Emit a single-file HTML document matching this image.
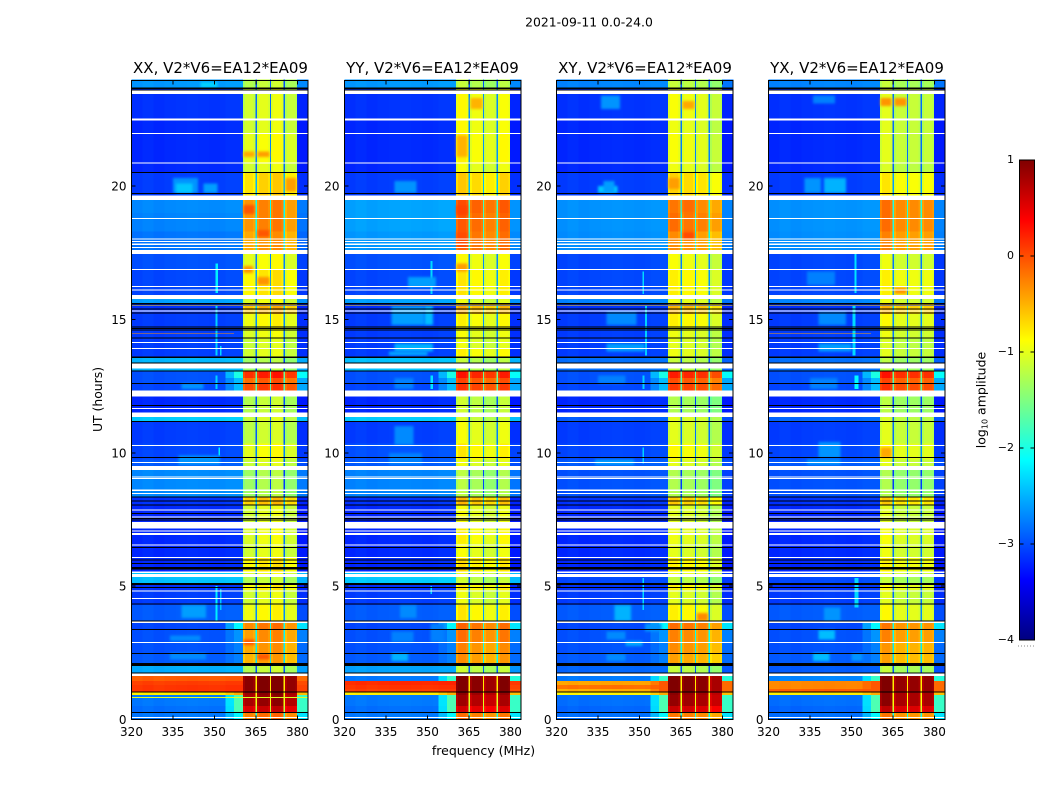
<!DOCTYPE html>
<html>
<head>
<meta charset="utf-8">
<title>Dynamic spectra 2021-09-11</title>
<style>
html,body{margin:0;padding:0;background:#fff;}
svg{display:block;font-family:"DejaVu Sans","Liberation Sans",sans-serif;}
text{fill:#000;}
</style>
</head>
<body>
<svg id="chart" xmlns="http://www.w3.org/2000/svg" width="1050" height="800" viewBox="0 0 1050 800">
  <defs>
    <filter id="softBlob" x="-50%" y="-150%" width="200%" height="400%"><feGaussianBlur stdDeviation="1.4"/></filter>
  </defs>
  <rect x="0" y="0" width="1050" height="800" fill="#fff"/>
  <text x="589" y="26.5" font-size="12.4" text-anchor="middle">2021-09-11 0.0-24.0</text>
  <text x="220.5" y="73" font-size="15" text-anchor="middle">XX, V2*V6=EA12*EA09</text>
  <text x="432.5" y="73" font-size="15" text-anchor="middle">YY, V2*V6=EA12*EA09</text>
  <text x="645" y="73" font-size="15" text-anchor="middle">XY, V2*V6=EA12*EA09</text>
  <text x="857" y="73" font-size="15" text-anchor="middle">YX, V2*V6=EA12*EA09</text>
  <text transform="translate(102,399.5) rotate(-90)" font-size="12.4" text-anchor="middle">UT (hours)</text>
  <text x="483.5" y="755" font-size="12.5" text-anchor="middle">frequency (MHz)</text>
  <text transform="translate(985.5,400) rotate(-90)" font-size="12.5" text-anchor="middle">log<tspan font-size="8" dy="2">10</tspan><tspan dy="-2"> amplitude</tspan></text>
  <g id="panels"></g>
  <g id="colorbar"></g>
</svg>
<script>
// ---- axis labels
const freqTicks = [320, 335, 350, 365, 380];
const hourTicks = [0, 5, 10, 15, 20];
const colorTicks = [1, 0, -1, -2, -3, -4];

// ---- frequency channels (MHz); kind: b=background r=rolloff n=inband g=gap e=upper edge
const channelEdges = [320,324,328,332,336,340,344,348,352,354,357,360.3,361,364,364.8,365.4,366,369.3,370,370.5,371.2,374.2,375,375.5,376.2,379.2,379.9,384];
const channelKind  = ['b','b','b','b','b','b','b','b','b','r','R','n','n','n','g','n','n','n','g','n','n','n','g','n','n','n','e'];
const channelSub   = [-1,-1,-1,-1,-1,-1,-1,-1,-1,-1,-1,0,0,0,-1,1,1,1,-1,2,2,2,-1,3,3,3,-1];
const channelGain  = [0,0.03,0,0.02,0.03,0.04,0.03,0.02,0.03,0.05,0.05,-0.12,0,-0.08,0,-0.12,0,-0.08,0,-0.12,0,-0.08,0,-0.12,0,-0.08,0];

// ---- UT row edges (hours), 52 rows
const rowEdges = [24,23.68,22.5,21.95,20.85,20.53,19.64,19,18.3,17.49,16.88,15.9,15.73,15.62,15.2,14.7,14.3,13.9,13.55,13.07,12.8,12.6,12.32,11.34,11.18,10.35,9.75,9.36,8.34,8.05,7.4,6.6,6.05,5.55,5.35,5.11,4.85,4.3,3.62,3.38,2.9,2.5,2.12,1.76,1.64,1.45,1.3,1.15,1.05,0.92,0.5,0.28,0];

// ---- log10 amplitude per row: background level
const bgXX = [-2.65,-3.15,-3.2,-3.2,-3.2,-3.1,-2.72,-2.75,-2.82,-3,-3.05,-2.6,-2.6,-3.15,-3.1,-3.1,-3.1,-3.1,-2.5,-3,-3,-3.05,-3.2,-2.4,-3.1,-3.05,-2.95,-2.72,-3.15,-3.2,-3.2,-3.2,-3.2,-2.4,-2.45,-3.15,-3.1,-2.95,-3.05,-3,-3,-2.95,-2.55,-2.55,-0.1,0.05,0.1,0.1,-0.8,-2.8,-2.85,-2.8];
const bgYY = [-2.65,-3.15,-3.2,-3.2,-3.2,-3.1,-2.6,-2.6,-2.65,-3,-3.05,-2.6,-2.6,-3.15,-3.1,-3.1,-3.1,-3.1,-2.45,-3,-3,-3.05,-3.2,-2.4,-3.1,-3,-2.95,-2.75,-3.15,-3.2,-3.2,-3.2,-3.2,-2.4,-2.4,-3.15,-3.1,-2.95,-3.05,-3,-3,-2.95,-2.6,-2.6,-2.8,0.15,0.1,0.05,-0.8,-2.8,-2.85,-2.8];
const bgXY = [-2.75,-3.15,-3.2,-3.2,-3.2,-3.1,-2.68,-2.68,-2.7,-3.05,-3.05,-2.75,-2.75,-3.15,-3.1,-3.1,-3.1,-3.1,-2.85,-3,-3,-3.05,-3.2,-2.95,-3.1,-3.05,-2.95,-3,-3.15,-3.2,-3.2,-3.2,-3.2,-3.05,-3.05,-3.15,-3.1,-2.95,-3.05,-3,-3,-2.95,-2.9,-2.9,-2.8,-0.45,-0.2,-0.5,-0.85,-2.85,-2.9,-2.85];
const bgYX = [-2.75,-3.15,-3.2,-3.2,-3.2,-3.1,-2.68,-2.68,-2.7,-3.05,-3.05,-2.75,-2.75,-3.15,-3.1,-3.1,-3.1,-3.1,-2.85,-3,-3,-3.05,-3.2,-2.9,-3.1,-3.05,-2.95,-3,-3.15,-3.2,-3.2,-3.2,-3.2,-3.05,-3.05,-3.15,-3.1,-2.95,-3.05,-3,-3,-2.95,-2.95,-2.95,-2.75,-0.3,-0.3,-0.1,-0.8,-2.85,-2.9,-2.85];

// ---- log10 amplitude per row: in-band level (360-380 MHz)
const bandXX = [-1.2,-1.05,-1.05,-0.95,-1.05,-0.7,-0.3,-0.3,-0.4,-0.95,-0.8,-1,-1,-0.55,-0.9,-1,-1.1,-1.05,-1.3,0.2,-0.1,0.05,-1.2,-1.1,-1.15,-0.95,-1.1,-1.3,-0.6,-1.05,-1,-1.05,-0.8,-1,-1.2,-0.85,-1.05,-0.9,-0.25,-0.35,-0.4,-0.45,-1.2,-1.2,1,1,1,1,0.9,0.85,0.6,-0.2];
const bandYY = [-1.2,-0.9,-0.9,-0.85,-0.95,-0.65,-0.05,-0.1,-0.15,-0.9,-0.8,-1,-1,-0.5,-0.85,-0.95,-1,-0.85,-1.2,0.25,0,0.1,-1.15,-1.1,-0.95,-0.8,-1,-1.25,-0.55,-0.95,-0.85,-0.95,-0.75,-1,-1.15,-0.8,-1,-0.8,-0.15,-0.2,-0.3,-0.35,-1.15,-1.15,1,1,1,1,0.9,0.8,0.55,-0.2];
const bandXY = [-1.2,-0.95,-1,-0.95,-1,-0.7,-0.25,-0.2,-0.35,-0.95,-0.85,-1,-1,-0.55,-0.85,-1,-1.05,-1,-1.2,0.2,-0.05,0.05,-1.3,-1.05,-1.05,-0.9,-1.05,-1.3,-0.65,-1.05,-1,-1.05,-0.85,-1,-1.2,-0.85,-1.05,-0.85,-0.2,-0.3,-0.35,-0.45,-1.2,-1.2,1,1,1,1,0.9,0.85,0.6,-0.25];
const bandYX = [-1.2,-1.05,-1.05,-1.05,-1.1,-0.8,-0.2,-0.2,-0.3,-1,-0.85,-1,-1,-0.55,-0.9,-1,-1.1,-1.05,-1.25,0.25,0,0.1,-1.25,-1.1,-1.05,-0.9,-1.05,-1.3,-0.65,-1.05,-0.95,-1,-0.85,-1,-1.2,-0.9,-1.05,-0.9,-0.25,-0.3,-0.4,-0.45,-1.2,-1.2,1,1,1,1,0.9,0.9,0.65,-0.25];

// ---- rolloff level just below the band, per row (null = same as background)
const rampLevels = [null,null,null,null,null,null,null,null,null,null,null,null,null,null,null,null,null,null,null,-2.05,-2.5,-2.5,null,null,null,null,null,null,null,null,null,null,null,null,null,null,null,null,-2.2,-2.7,-2.8,-2.8,null,null,-1.9,-0.1,-0.1,-0.1,-0.5,-1.8,-1.8,-2.2];

// ---- sub-band gain per polarization
const subGainXX = [-0.05,0.05,0.1,-0.1];
const subGainYY = [0.05,-0.05,-0.15,0];
const subGainXY = [0.05,0,-0.05,-0.2];
const subGainYX = [0.05,-0.1,-0.1,-0.1];

// ---- flagged (white) UT intervals, hours
const whiteLines = [[23.58,23.45],[22.53,22.46],[21.99,21.95],[20.88,20.85],[19.64,19.48],[18.8,18.77],[18.04,18],[17.95,17.91],[17.85,17.8],[17.72,17.68],[17.6,17.46],[16.9,16.86],[16.25,16.21],[16.12,16.09],[15.92,15.77],[15.55,15.52],[15.34,15.31],[14.16,14.13],[13.93,13.9],[13.35,13.17],[12.33,12.11],[11.68,11.65],[11.52,11.34],[10.3,10.26],[9.66,9.63],[9.5,9.36],[9.12,9.09],[9.06,9.03],[8.63,8.57],[8.49,8.46],[7.87,7.83],[7.62,7.59],[7.4,7.17],[7.09,7.06],[6.99,6.92],[6.57,6.54],[6.09,6.06],[5.55,5.5],[5.46,5.35],[4.84,4.81],[4.56,4.53],[3.68,3.62],[2.91,2.88],[1.74,1.64],[0.1,0.06]];

// ---- zero-amplitude (black) UT intervals, hours
const blackLines = [[23.69,23.65],[23.62,23.58],[20.53,20.49],[19.75,19.71],[15.62,15.59],[15.56,15.53],[15.41,15.37],[15.26,15.22],[14.74,14.71],[14.68,14.65],[14.62,14.59],[14.32,14.29],[13.62,13.55],[13.39,13.36],[13.09,13.06],[12.62,12.59],[11.79,11.76],[11.2,11.16],[9.85,9.81],[8.37,8.34],[8.22,8.19],[8.06,8.03],[7.75,7.72],[7.56,7.53],[7.49,7.46],[6.47,6.44],[6,5.96],[5.87,5.84],[5.71,5.63],[5.12,5.04],[4.97,4.94],[4.35,4.31],[3.72,3.68],[3.39,3.36],[2.49,2.46],[2.12,2],[1.77,1.74],[1.05,1.02],[0.28,0.24]];

// ---- localized features per polarization: [hourHigh, hourLow, mhzLow, mhzHigh, log10 amplitude]
const patchesXX = [[20.3,19.75,335,344,-2.65],[20.1,19.75,336,342,-2.4],[20.1,19.75,346,351,-2.6],[23.9,23.7,345,351,-2.35],[17.1,16,350.4,351.2,-2.2],[15.5,13.65,350.4,351,-2.35],[14,13.65,352,352.6,-2.3],[12.9,12.4,350.4,351,-2.35],[10.2,9.9,351.5,352,-2.2],[5,3.7,350.4,351,-2.2],[4.9,4.1,352,352.6,-2.4],[4.3,3.8,338,347,-2.6],[3.15,2.95,334,345,-2.7],[2.5,2.25,334,347,-2.7],[12.6,12.4,338,346,-2.65],[9.9,9.55,337,352,-2.65],[14.5,14.47,320,357,-0.3],[0.84,0.8,320,384,-1.05],[21.3,21.1,360.5,364.5,-0.45],[21.3,21.1,365.5,369.8,-0.4],[20.3,19.8,375.7,379.7,-0.4],[19.3,18.95,360.5,364.5,-0.05],[18.35,18.1,365.5,369.8,-0.05],[17,16.75,360.5,364,-0.35],[16.6,16.3,365.5,369.8,-0.35],[3.0,2.8,360.5,364.5,-0.05],[2.45,2.25,365.5,369.8,-0.05]];
const patchesYY = [[20.2,19.75,338,346,-2.65],[17.2,15.95,351,351.8,-2.3],[16.6,16.2,343,353,-2.6],[15.5,14.8,337,349,-2.6],[15.5,14.8,349,352,-2.45],[14.1,13.8,338,352,-2.5],[13.8,13.65,336,350,-2.55],[12.9,12.4,351,352,-2.25],[12.8,12.4,338,345,-2.75],[11,10.3,338,345,-2.7],[10,9.55,336,348,-2.75],[5,4.7,351,351.6,-2.3],[4.3,3.8,340,346,-2.7],[2.5,2.2,337,343,-2.5],[3.3,2.9,337,345,-2.75],[3.6,2.9,351,356,-2.75],[18.3,17.7,360.5,364.5,0],[19.3,18.9,360.5,364.5,0.05],[17.1,16.8,360.5,364.5,-0.4],[21.9,21.1,360.5,364.5,-0.5],[23.3,22.9,365.5,369.8,-0.5]];
const patchesXY = [[23.4,22.9,336,343,-2.65],[20,19.75,335,342,-2.4],[20.2,19.75,337,341,-2.6],[16.8,15.95,351,351.6,-2.3],[15.5,13.65,352,352.8,-2.35],[15.3,14.8,338,349,-2.7],[14.1,13.8,338,352,-2.6],[12.9,12.4,351,351.8,-2.35],[12.9,12.6,335,345,-2.75],[10.2,9.6,351,351.6,-2.35],[9.75,9.55,334,348,-2.6],[5.3,4.1,351,351.6,-2.3],[4.3,3.7,341,347,-2.5],[3.3,3,338,345,-2.7],[2.95,2.75,345,351,-2.55],[2.45,2.2,338,345,-2.7],[3.6,3.3,352,358,-2.65],[23.2,22.9,365.5,369.8,-0.45],[20.3,19.9,360.5,364.5,-0.4],[18.3,18,365.5,369.8,0],[4,3.7,370.7,374.8,-0.3],[19.6,19,365.5,369.8,-0.15]];
const patchesYX = [[20.3,19.75,333,339,-2.65],[20.3,19.75,340,348,-2.5],[23.4,23.1,336,344,-2.75],[17.6,16,351,351.8,-2.25],[16.8,16.3,334,344,-2.75],[15.5,13.65,350.4,351.4,-2.3],[15.3,14.8,338,348,-2.7],[14.1,13.8,338,350,-2.6],[12.9,12.4,351,352.6,-2.15],[12.8,12.4,335,345,-2.75],[10.4,9.8,338,346,-2.65],[9.75,9.55,334,346,-2.65],[5.3,4.2,351,352.6,-2.3],[4.2,3.7,340,346,-2.65],[3.35,3,338,344,-2.45],[2.5,2.2,336,342,-2.45],[2.5,2.2,350,354,-2.65],[14.5,14.47,320,357,-0.4],[23.3,23,360.5,364.5,-0.35],[23.3,23,365.5,369.8,-0.35],[16.2,15.95,365.5,369.8,-0.35],[10.2,9.8,360.5,364.5,-0.45]];

const panelLeft = [131.5, 344.5, 556.5, 768.5];
const panelBg = [bgXX, bgYY, bgXY, bgYX];
const panelBand = [bandXX, bandYY, bandXY, bandYX];
const panelSub = [subGainXX, subGainYY, subGainXY, subGainYX];
const panelPatches = [patchesXX, patchesYY, patchesXY, patchesYX];
const panelNames = ['xx', 'yy', 'xy', 'yx'];

const NS = 'http://www.w3.org/2000/svg';
const PANEL_W = 176.5, PLOT_TOP = 80.5, PLOT_BOTTOM = 719.5;
const FREQ_MIN = 320, FREQ_MAX = 383.8, HOUR_MAX = 23.96;
const CB_LEFT = 1019.5, CB_RIGHT = 1034.5, CB_TOP = 160, CB_BOTTOM = 640;
const VAL_MIN = -4, VAL_MAX = 1;

function yScale(h) { return PLOT_BOTTOM - (h / HOUR_MAX) * (PLOT_BOTTOM - PLOT_TOP); }
function xScale(left, f) { return left + ((f - FREQ_MIN) / (FREQ_MAX - FREQ_MIN)) * PANEL_W; }
function cbScale(v) { return CB_BOTTOM - ((v - VAL_MIN) / (VAL_MAX - VAL_MIN)) * (CB_BOTTOM - CB_TOP); }
function jet(v) {
  const t = Math.max(0, Math.min(1, (v - VAL_MIN) / (VAL_MAX - VAL_MIN)));
  const ch = c => Math.round(255 * Math.max(0, Math.min(1, c)));
  const r = Math.min(4 * t - 1.5, -4 * t + 4.5);
  const g = Math.min(4 * t - 0.5, -4 * t + 3.5);
  const b = Math.min(4 * t + 0.5, -4 * t + 2.5);
  return 'rgb(' + ch(r) + ',' + ch(g) + ',' + ch(b) + ')';
}
function mk(parent, tag, attrs) {
  const el = document.createElementNS(NS, tag);
  for (const k in attrs) el.setAttribute(k, attrs[k]);
  parent.appendChild(el);
  return el;
}
function cellValue(p, row, c) {
  const bg = panelBg[p][row], band = panelBand[p][row], ramp = rampLevels[row];
  const kind = channelKind[c];
  if (kind === 'b') return bg + channelGain[c];
  if (kind === 'n') return Math.min(band + panelSub[p][channelSub[c]] + channelGain[c], VAL_MAX);
  if (kind === 'g') return band - 1.8;
  const top = ramp === null ? bg : Math.max(bg, ramp);
  if (kind === 'R') return top + channelGain[c];
  if (kind === 'r') return (bg + top) / 2 + channelGain[c];
  return top - 0.05;
}

const panelsRoot = document.getElementById('panels');
panelLeft.forEach(function (left, p) {
  const g = mk(panelsRoot, 'g', {});
  
  
  const cells = mk(g, 'g', { 'shape-rendering': 'crispEdges' });
  
  

  for (let r = 0; r < rowEdges.length - 1; r++) {
    for (let c = 0; c < channelEdges.length - 1; c++) {
      const x0 = xScale(left, channelEdges[c]), x1 = xScale(left, channelEdges[c + 1]);
      const y0 = yScale(rowEdges[r]), y1 = yScale(rowEdges[r + 1]);
      const cell = mk(cells, 'rect', { x: x0, y: y0, width: x1 - x0, height: y1 - y0, fill: jet(cellValue(p, r, c)) });
      
      
    }
  }
  panelPatches[p].forEach(function (pt) {
    const x0 = xScale(left, pt[2]), x1 = xScale(left, pt[3]);
    const y0 = yScale(pt[0]), y1 = yScale(pt[1]);
    const patch = mk(cells, 'rect', { x: x0, y: y0, width: x1 - x0, height: y1 - y0, fill: jet(pt[4]) });
    
    
    if (pt[3] - pt[2] > 2 && pt[0] - pt[1] > 0.1) {
      patch.setAttribute('filter', 'url(#softBlob)');
    }
  });
  whiteLines.forEach(function (w) {
    const y0 = yScale(w[0]), y1 = yScale(w[1]);
    const line = mk(cells, 'rect', { x: left, y: y0, width: PANEL_W, height: Math.max(1, y1 - y0), fill: '#fff' });
    
    
  });
  blackLines.forEach(function (w) {
    const y0 = yScale(w[0]), y1 = yScale(w[1]);
    const line = mk(cells, 'rect', { x: left, y: y0, width: PANEL_W, height: Math.max(1, y1 - y0), fill: '#000' });
    
    
  });

  const frame = mk(g, 'rect', { x: left, y: PLOT_TOP, width: PANEL_W, height: PLOT_BOTTOM - PLOT_TOP, fill: 'none', stroke: '#000', 'stroke-width': 1, 'shape-rendering': 'crispEdges' });
  
  

  freqTicks.forEach(function (f) {
    const x = xScale(left, f);
    const t1 = mk(g, 'line', { x1: x, x2: x, y1: PLOT_BOTTOM, y2: PLOT_BOTTOM - 4, stroke: '#000', 'shape-rendering': 'crispEdges' });
    
    
    const t2 = mk(g, 'line', { x1: x, x2: x, y1: PLOT_TOP, y2: PLOT_TOP + 4, stroke: '#000', 'shape-rendering': 'crispEdges' });
    
    
    const label = mk(g, 'text', { x: x, y: 736, 'font-size': 12, 'text-anchor': 'middle' });
    
    
    label.textContent = f;
  });
  hourTicks.forEach(function (h) {
    const y = yScale(h);
    const t1 = mk(g, 'line', { x1: left, x2: left + 4, y1: y, y2: y, stroke: '#000', 'shape-rendering': 'crispEdges' });
    
    
    const t2 = mk(g, 'line', { x1: left + PANEL_W, x2: left + PANEL_W - 4, y1: y, y2: y, stroke: '#000', 'shape-rendering': 'crispEdges' });
    
    
    const label = mk(g, 'text', { x: left - 5, y: y + 4.5, 'font-size': 12, 'text-anchor': 'end' });
    
    
    label.textContent = h;
  });
});

// ---- colorbar
const cb = document.getElementById('colorbar');
const defs = mk(cb, 'defs', {});
const grad = mk(defs, 'linearGradient', { id: 'jetGrad', x1: 0, y1: 1, x2: 0, y2: 0 });
for (let i = 0; i <= 64; i++) {
  const v = VAL_MIN + (VAL_MAX - VAL_MIN) * i / 64;
  mk(grad, 'stop', { offset: (i / 64), 'stop-color': jet(v) });
}
const cbBar = mk(cb, 'rect', { x: CB_LEFT, y: CB_TOP, width: CB_RIGHT - CB_LEFT, height: CB_BOTTOM - CB_TOP, fill: 'url(#jetGrad)', stroke: '#000', 'stroke-width': 1, 'shape-rendering': 'crispEdges' });


colorTicks.forEach(function (v) {
  const y = cbScale(v);
  const t1 = mk(cb, 'line', { x1: CB_LEFT, x2: CB_LEFT + 4, y1: y, y2: y, stroke: '#000', 'shape-rendering': 'crispEdges' });
  
  
  const t2 = mk(cb, 'line', { x1: CB_RIGHT, x2: CB_RIGHT - 4, y1: y, y2: y, stroke: '#000', 'shape-rendering': 'crispEdges' });
  
  
  const label = mk(cb, 'text', { x: 1014, y: y + 3, 'font-size': 11, 'text-anchor': 'end' });
  
  
  label.textContent = String(v).replace('-', '\u2212');
});
const dots = mk(cb, 'line', { x1: 1018, x2: 1035, y1: 646, y2: 646, stroke: '#888', 'stroke-width': 1, 'stroke-dasharray': '1 2', 'shape-rendering': 'crispEdges' });


</script>
</body>
</html>
